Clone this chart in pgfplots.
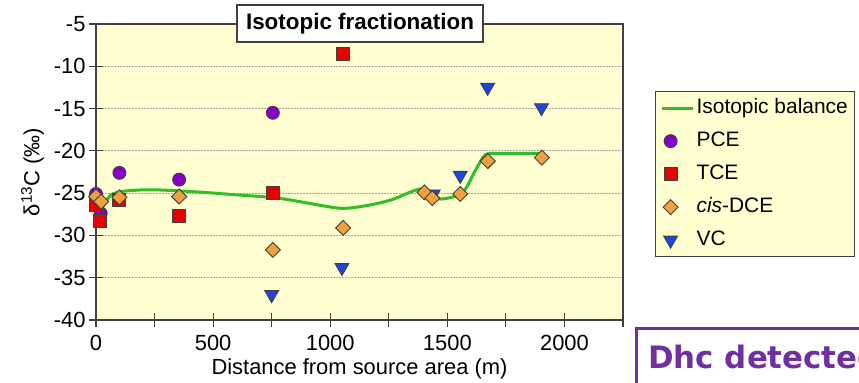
\documentclass[border=0pt]{standalone}
\usepackage{pgfplots}
\pgfplotsset{compat=1.18}
\usepackage{fontspec}
\setmainfont{Liberation Sans}
\newfontfamily\slidefont{DejaVu Sans}

\definecolor{plotbg}{RGB}{255,255,210}
\definecolor{framegray}{RGB}{64,64,64}
\definecolor{gridgray}{RGB}{165,165,165}
\definecolor{pcecol}{RGB}{136,0,200}
\definecolor{tcecol}{RGB}{230,0,0}
\definecolor{dcecol}{RGB}{240,160,60}
\definecolor{vccol}{RGB}{30,70,220}
\definecolor{balcol}{RGB}{50,190,40}
\definecolor{dhcpurple}{RGB}{112,48,160}

\pgfplotsset{
  pce/.style={only marks, mark=*, mark size=6.5bp,
    mark options={draw=black!75, fill=pcecol, line width=0.9bp}},
  tce/.style={only marks, mark=square*, mark size=6.5bp,
    mark options={draw=black!75, fill=tcecol, line width=0.9bp}},
  dce/.style={only marks, mark=square*, mark size=5.3bp,
    mark options={draw=black!75, fill=dcecol, line width=0.9bp, rotate=45}},
  vc/.style={only marks, mark=triangle*, mark size=8bp,
    mark options={draw=black!75, fill=vccol, line width=0.9bp, rotate=180}},
  balance/.style={balcol, line width=3bp, smooth, tension=0.5},
}

\begin{document}
\begin{tikzpicture}[x=1bp,y=1bp]
\path[use as bounding box] (0,0) rectangle (859,382);
\begin{axis}[
  at={(96bp,62bp)}, anchor=south west,
  scale only axis, width=527bp, height=296bp,
  xmin=0, xmax=2250, ymin=-40, ymax=-5,
  xtick={0,500,...,2000}, minor xtick={250,750,...,2250},
  ytick={-40,-35,...,-5},
  xtick pos=left, ytick pos=left,
  tick align=center,
  major tick length=14bp, minor tick length=14bp,
  tick style={framegray, line width=1.2bp},
  axis line style={framegray, line width=1.2bp},
  axis background/.style={fill=plotbg},
  ymajorgrids,
  major grid style={gridgray, dash pattern=on 1.5bp off 1.5bp, line width=0.9bp},
  /pgf/number format/assume math mode=true,
  /pgf/number format/1000 sep={},
  tick label style={font=\fontsize{22}{26}\selectfont},
  xticklabel style={yshift=-5bp},
  label style={font=\fontsize{22}{26}\selectfont},
  xlabel={Distance from source area (m)},
  xlabel style={yshift=-1bp},
  ylabel={δ\textsuperscript{13}C (‰)},
  ylabel style={yshift=3bp},
  legend cell align=left,
  legend style={at={(axis description cs:1.0607,0.7735)}, anchor=north west,
    fill=plotbg, draw=framegray, line width=1.2bp,
    font=\fontsize{21}{25}\selectfont, row sep=10bp, inner sep=5bp,
    nodes={inner sep=2bp, text height=15bp, text depth=4bp}},
]
% legend entries, in the order shown
\addlegendimage{legend image code/.code={\draw[balcol, line width=3bp] (0bp,0bp) -- (31bp,0bp);}}
\addlegendentry{Isotopic balance}
\addlegendimage{pce}
\addlegendentry{PCE}
\addlegendimage{tce}
\addlegendentry{TCE}
\addlegendimage{dce}
\addlegendentry{\textit{cis}-DCE}
\addlegendimage{vc}
\addlegendentry{VC}

% measured delta-13C values
\addplot[vc, forget plot] coordinates {
  (750,-37.0) (1050,-33.8) (1440,-25.1) (1555,-22.9) (1672,-12.5) (1902,-14.9)};
\addplot[pce, forget plot] coordinates {
  (0,-25.1) (20,-27.4) (100,-22.6) (355,-23.4) (755,-15.5)};
\addplot[tce, forget plot] coordinates {
  (0,-26.4) (18,-28.3) (100,-25.8) (355,-27.7) (755,-25.0) (1055,-8.6)};
\addplot[dce, forget plot] coordinates {
  (0,-25.4) (22,-26.0) (100,-25.5) (355,-25.4) (755,-31.7) (1055,-29.1)
  (1402,-24.9) (1436,-25.6) (1555,-25.1) (1673,-21.2) (1904,-20.8)};

% isotopic mass balance curve
\addplot[balance, forget plot] coordinates {
  (0,-25.3) (25,-26.7) (60,-25.3) (110,-24.8) (230,-24.6) (400,-24.8)
  (600,-25.2) (780,-25.6) (950,-26.4) (1050,-26.8) (1150,-26.5) (1260,-25.8)
  (1385,-24.5) (1440,-25.4) (1470,-25.7) (1530,-25.4) (1575,-24.6)
  (1620,-22.3) (1660,-20.5) (1700,-20.3) (1800,-20.3) (1900,-20.3)};
\end{axis}

% chart title box on the top frame
\node[draw=framegray, line width=1.2bp, fill=white, minimum width=246bp,
  minimum height=37bp, inner sep=0pt,
  font=\bfseries\fontsize{22.5}{27}\selectfont] at (360,358.5) {Isotopic fractionation};

% slide caption box below the legend
\draw[dhcpurple, line width=3bp] (636,-10) -- (636,54) -- (900,54);
\node[anchor=base west, inner sep=0pt, text=dhcpurple,
  font=\slidefont\bfseries\fontsize{31}{37}\selectfont] at (648,14) {Dhc detected};
\end{tikzpicture}
\end{document}
